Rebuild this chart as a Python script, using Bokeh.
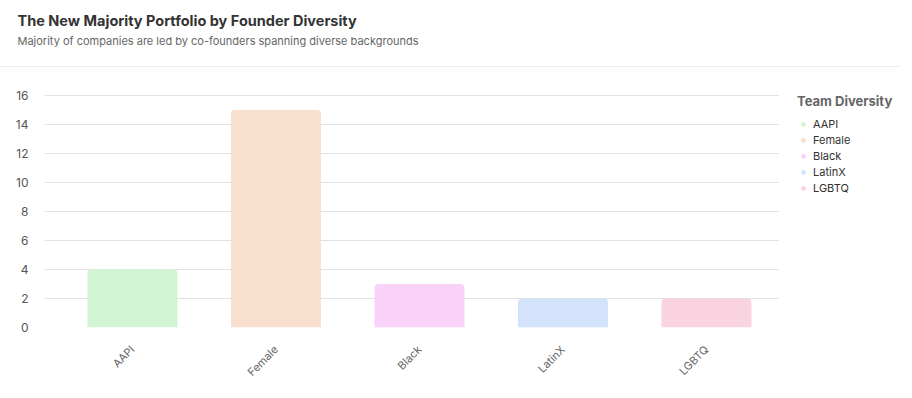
from math import pi
from bokeh.plotting import figure
from bokeh.models import (Range1d, FixedTicker, Title, Legend, LegendItem)
from bokeh.layouts import column, row
from bokeh.embed import file_html
from bokeh.resources import INLINE

# ---- data ----
categories = ["AAPI", "Female", "Black", "LatinX", "LGBTQ"]
counts = [4, 15, 3, 2, 2]
colors = ["#d2f5d3", "#f9dfce", "#f9d2fa", "#d3e3fc", "#f9d3df"]
y_ticks = [0, 2, 4, 6, 8, 10, 12, 14, 16]
title_text = "The New Majority Portfolio by Founder Diversity"
subtitle_text = "Majority of companies are led by co-founders spanning diverse backgrounds"
legend_title = "Team Diversity"

FONT = "Inter"
BL = 44            # left border of the plot frame
CHART_W = 779      # chart figure width (frame ends at its right edge)
LEG_W = 121        # legend figure width
CHART_H = 331
TOP_B, BOT_B = 18, 71
BORDER = {"border-top": "1px solid #eeeeee"}

# ---- header ----
hdr = figure(width=CHART_W + LEG_W, height=52, output_backend="svg", toolbar_location=None,
             x_range=Range1d(0, 1), y_range=Range1d(0, 1), title=None,
             x_axis_type=None, y_axis_type=None,
             min_border_left=BL, min_border_right=0, min_border_top=0, min_border_bottom=0,
             styles={"margin-top": "14px"})
hdr.outline_line_color = None
hdr.grid.visible = False
sub = Title(text=subtitle_text, text_font=FONT, text_font_size="11px",
            text_font_style="normal", text_color="#666666", align="left",
            offset=-27, standoff=14)
main = Title(text=title_text, text_font=FONT, text_font_size="14.5px",
             text_font_style="bold", text_color="#333333", align="left",
             offset=-27, standoff=0)
try:
    main.standoff = -9
except Exception:
    main.standoff = 0
hdr.add_layout(sub, "above")
hdr.add_layout(main, "above")

# ---- chart ----
idx = list(range(len(categories)))
src = dict(x=idx, top=counts, color=colors, cat=categories)

p = figure(width=CHART_W, height=CHART_H, output_backend="svg", toolbar_location=None,
           x_range=Range1d(-0.613, len(categories) - 1 + 0.509),
           y_range=Range1d(0, 16 + 10 / 14.5),
           min_border_left=BL, min_border_right=0, min_border_top=TOP_B, min_border_bottom=BOT_B,
           styles=BORDER)
p.outline_line_color = None

p.vbar(x="x", top="top", width=0.627, bottom=0, fill_color="color", line_color=None,
       border_radius=(4, 4, 0, 0), source=src)

p.xgrid.visible = False
p.ygrid.grid_line_color = "#e2e2e2"
p.ygrid.ticker = FixedTicker(ticks=y_ticks)

p.yaxis.ticker = FixedTicker(ticks=y_ticks)
p.yaxis.axis_line_color = None
p.yaxis.major_tick_line_color = None
p.yaxis.minor_tick_line_color = None
p.yaxis.major_tick_out = 0
p.yaxis.major_tick_in = 0
p.yaxis.major_label_standoff = 16
p.yaxis.major_label_text_font = FONT
p.yaxis.major_label_text_font_size = "12px"
p.yaxis.major_label_text_color = "#555555"

p.xaxis.ticker = FixedTicker(ticks=idx)
p.xaxis.major_label_overrides = {i: c for i, c in zip(idx, categories)}
p.xaxis.axis_line_color = None
p.xaxis.major_tick_line_color = None
p.xaxis.minor_tick_line_color = None
p.xaxis.major_label_orientation = pi / 4
p.xaxis.major_label_standoff = 14
p.xaxis.major_label_text_font = FONT
p.xaxis.major_label_text_font_size = "11px"
p.xaxis.major_label_text_color = "#666666"

# ---- legend panel ----
lf = figure(width=LEG_W, height=CHART_H, output_backend="svg", toolbar_location=None,
            x_range=Range1d(0, 1), y_range=Range1d(0, 1),
            x_axis_type=None, y_axis_type=None,
            min_border_left=0, min_border_right=0, min_border_top=TOP_B, min_border_bottom=BOT_B,
            styles=BORDER)
lf.outline_line_color = None
lf.grid.visible = False
dots = lf.scatter(x="x", y="top", size=0, fill_color="color", line_color=None, source=src)

items = [LegendItem(label=c, renderers=[dots], index=i) for i, c in enumerate(categories)]
legend = Legend(items=items, location=(18, 131), title=legend_title,
                title_text_font=FONT, title_text_font_size="13px", title_text_font_style="bold",
                title_text_color="#666666", title_standoff=7,
                label_text_font=FONT, label_text_font_size="11px", label_text_color="#333333",
                label_height=16, glyph_height=16, glyph_width=12, label_standoff=4, spacing=0,
                margin=0, padding=0, border_line_color=None, background_fill_alpha=0)
lf.add_layout(legend)

layout = column(hdr, row(p, lf, spacing=0), spacing=0)
open("out.html", "w").write(file_html(layout, INLINE))
